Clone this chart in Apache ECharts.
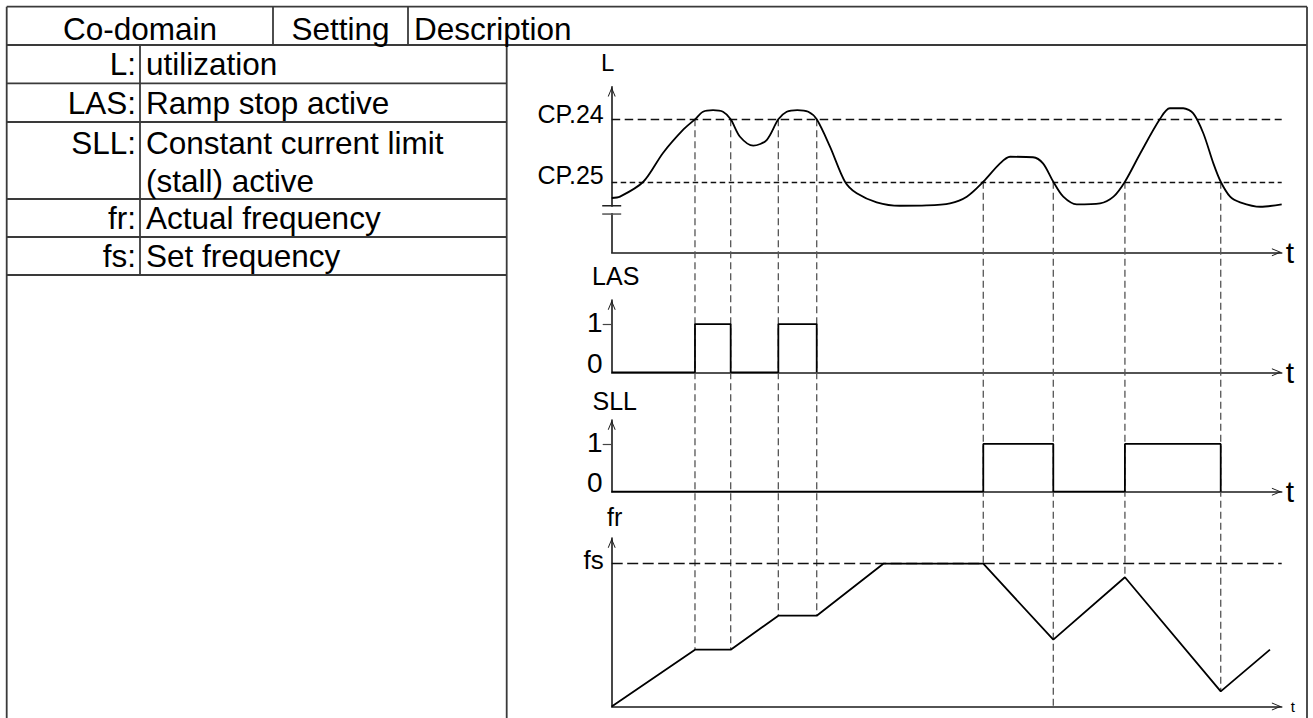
<!DOCTYPE html>
<html>
<head>
<meta charset="utf-8">
<script src="https://cdn.jsdelivr.net/npm/echarts@6/dist/echarts.min.js"></script>
<style>
html,body{margin:0;padding:0;background:#fff;}
#c{width:1313px;height:718px;}
</style>
</head>
<body>
<div id="c"></div>
<script>
// ---------- table texts ----------
const headerLabels = ['Co-domain', 'Setting', 'Description'];
const rowCodes = ['L:', 'LAS:', 'SLL:', 'fr:', 'fs:'];
const rowDescriptions = [['utilization'], ['Ramp stop active'], ['Constant current limit', '(stall) active'], ['Actual frequency'], ['Set frequency']];

// ---------- axis names / level labels ----------
const axisNames = ['L', 'LAS', 'SLL', 'fr'];
const timeName = 't';
const levelLabelsL = ['CP.25', 'CP.24'];
const cp25 = 42.6;
const cp24 = 80.3;
const levelValuesL = [cp25, cp24];
const binaryLabels = ['0', '1'];
const binaryValues = [0, 1];
const fsLabel = 'fs';
const fsValue = 100;

// ---------- L (utilization) curve ----------
const timeL = [0, 1.24, 4.72, 7.66, 10.64, 12.43, 13.63, 15.12, 16.61, 17.76, 19.15, 21.13, 23.13, 24.87, 26.12, 27.7, 29.34, 30.6, 32.58, 34.82, 36.57, 39.55, 43.0, 47.0, 50.5, 53.0, 55.46, 57.96, 59.45, 62.88, 64.37, 65.91, 67.4, 69.4, 72.9, 74.9, 76.6, 78.9, 81.8, 83.3, 85.3, 86.8, 88.3, 89.8, 90.9, 92.3, 93.8, 96.8, 100];
const valueL = [32.8, 33.6, 42.6, 60.0, 73.9, 80.3, 84.9, 85.9, 84.9, 80.3, 69.8, 64.4, 67.8, 80.3, 84.9, 85.9, 84.9, 80.3, 63.8, 42.6, 35.6, 30.2, 28.1, 28.3, 29.6, 33.6, 42.6, 53.7, 57.7, 57.4, 53.7, 42.6, 33.6, 29.0, 29.6, 33.6, 42.6, 59.8, 80.3, 87.0, 87.0, 83.9, 71.9, 53.7, 42.6, 33.6, 30.2, 27.5, 29.0];
const breakLevelsL = [28.1, 23.1];

// ---------- LAS / SLL pulses (on intervals) ----------
const lasOnIntervals = [[12.43, 17.76], [24.87, 30.6]];
const sllOnIntervals = [[55.46, 65.91], [76.6, 90.9]];

// ---------- fr (actual frequency) ----------
const timeFr = [0, 12.43, 17.76, 24.87, 30.6, 40.54, 55.46, 65.91, 76.6, 90.9, 98.25];
const valueFr = [0, 39.8, 39.8, 63.6, 63.6, 100, 100, 46.8, 90.5, 10.6, 39.8];

// ---------- dashed guide lines ----------
const guideTimes = [12.43, 17.76, 24.87, 30.6, 55.46, 65.91, 76.6, 90.9];
const guideTopL = [cp24, cp24, cp24, cp24, cp25, cp25, cp25, cp25];
const guideBottomFr = [39.8, 39.8, 63.6, 63.6, 100, 0, 90.5, 10.6];

// ---------- build ----------
const FONT = '"Liberation Sans", Arial, Helvetica, sans-serif';
const ARROW = 'path://M5,0 L10,12 L8.7,12 L5,2.8 L1.3,12 L0,12 Z';

function pulseData(intervals) {
  const d = [[0, 0]];
  intervals.forEach(function (iv) {
    d.push([iv[0], 0], [iv[0], 1], [iv[1], 1], [iv[1], 0]);
  });
  return d;
}
function zip(xs, ys) { return xs.map(function (x, i) { return [x, ys[i]]; }); }

const grids = [
  { left: 611.7, right: 31.3, top: 86.7, height: 165.6 },
  { left: 611.7, right: 31.3, top: 300, height: 72.3 },
  { left: 611.7, right: 31.3, top: 420, height: 71.7 },
  { left: 611.7, right: 31.3, top: 538, height: 168.5 }
];

function xAxisCfg(i) {
  return {
    type: 'value', gridIndex: i, min: 0, max: 100,
    axisLine: { show: true, onZero: false, lineStyle: { color: '#1a1a1a', width: 1.6 },
      symbol: ['none', ARROW], symbolSize: [8, 10], symbolOffset: [0, -5] },
    axisTick: { show: false }, axisLabel: { show: false }, splitLine: { show: false },
    name: timeName, nameLocation: 'end', nameGap: i === 3 ? 9 : 4,
    nameTextStyle: { fontSize: i === 3 ? 15 : 30, color: '#000', fontFamily: FONT, verticalAlign: 'middle' }
  };
}

const nameStyles = [
  { fontSize: 24, gap: 12, padding: [0, 8, 0, 0] },
  { fontSize: 25, gap: 12, padding: [0, 0, 0, 8] },
  { fontSize: 25, gap: 7, padding: [0, 0, 0, 6] },
  { fontSize: 25, gap: 9, padding: [0, 0, 0, 6] }
];

function yAxisBase(i, max) {
  const ns = nameStyles[i];
  return {
    type: 'value', gridIndex: i, min: 0, max: max,
    axisLine: { show: true, onZero: false, lineStyle: { color: '#1a1a1a', width: 1.6 },
      symbol: ['none', ARROW], symbolSize: [8, 10], symbolOffset: [0, -5] },
    splitLine: { show: false },
    name: axisNames[i], nameLocation: 'end', nameGap: ns.gap,
    nameTextStyle: { fontSize: ns.fontSize, color: '#000', fontFamily: FONT, padding: ns.padding }
  };
}

const yAxes = [];
yAxes.push(Object.assign(yAxisBase(0, 100), {
  axisTick: { show: false },
  axisLabel: { show: true, customValues: levelValuesL, margin: 8,
    formatter: function (v) { const k = levelValuesL.indexOf(v); return '{l' + k + '|' + levelLabelsL[k] + '}'; },
    rich: {
      l0: { fontSize: 25, fontFamily: FONT, color: '#000', padding: [0, 0, 13, 0] },
      l1: { fontSize: 25, fontFamily: FONT, color: '#000', padding: [0, 0, 10, 0] }
    } }
}));
[1, 2].forEach(function (i) {
  yAxes.push(Object.assign(yAxisBase(i, 1.5), {
    axisTick: { show: true, customValues: [1], length: 9, lineStyle: { color: '#444', width: 1.2 } },
    axisLabel: { show: true, customValues: binaryValues, margin: 9,
      formatter: function (v) { const k = binaryValues.indexOf(v); return '{b' + k + '|' + binaryLabels[k] + '}'; },
      rich: {
        b0: { fontSize: 28, fontFamily: FONT, color: '#000', padding: [0, 0, 18, 0] },
        b1: { fontSize: 28, fontFamily: FONT, color: '#000', padding: [0, 0, 3, 0] }
      } }
  }));
});
yAxes.push(Object.assign(yAxisBase(3, 118), {
  axisTick: { show: false },
  axisLabel: { show: true, customValues: [fsValue], margin: 8,
    formatter: function () { return '{f|' + fsLabel + '}'; },
    rich: { f: { fontSize: 26, fontFamily: FONT, color: '#000', padding: [0, 0, 8, 0] } } }
}));

const curveStyle = { color: '#000', width: 1.8 };

const option = {
  animation: false,
  backgroundColor: '#fff',
  grid: grids,
  xAxis: [0, 1, 2, 3].map(xAxisCfg),
  yAxis: yAxes,
  series: [
    {
      type: 'line', xAxisIndex: 0, yAxisIndex: 0, data: zip(timeL, valueL),
      smooth: 0.3, showSymbol: false, symbol: 'none', lineStyle: curveStyle, z: 5,
      markLine: {
        silent: true, symbol: 'none', label: { show: false },
        data: [
          { yAxis: cp24, lineStyle: { type: [8.5, 4.5], color: '#111', width: 1.3 } },
          { yAxis: cp25, lineStyle: { type: [5.5, 3.5], color: '#111', width: 1.3 } }
        ]
      }
    },
    { type: 'line', xAxisIndex: 1, yAxisIndex: 1, data: pulseData(lasOnIntervals), showSymbol: false, symbol: 'none', lineStyle: curveStyle, z: 5 },
    { type: 'line', xAxisIndex: 2, yAxisIndex: 2, data: pulseData(sllOnIntervals), showSymbol: false, symbol: 'none', lineStyle: curveStyle, z: 5 },
    {
      type: 'line', xAxisIndex: 3, yAxisIndex: 3, data: zip(timeFr, valueFr),
      showSymbol: false, symbol: 'none', lineStyle: curveStyle, z: 5,
      markLine: {
        silent: true, symbol: 'none', label: { show: false },
        data: [{ yAxis: fsValue, lineStyle: { type: [11, 4.5], color: '#111', width: 1.3 } }]
      }
    }
  ]
};

const chart = echarts.init(document.getElementById('c'), null, { renderer: 'svg' });
chart.setOption(option);

// ---------- table and overlay graphics ----------
const G = [];
const TL = '#3a3a3a';
function ln(x1, y1, x2, y2, style, z) {
  G.push({ type: 'line', silent: true, z: z || 1, shape: { x1: x1, y1: y1, x2: x2, y2: y2 }, style: style });
}
function tx(text, x, y, align, size) {
  G.push({ type: 'text', silent: true, z: 3, x: x, y: y,
    style: { text: text, fill: '#000', fontSize: size || 31.5, fontFamily: FONT, align: align, verticalAlign: 'middle' } });
}
const tstyle = { stroke: TL, lineWidth: 1.8 };
// outer frame and header
ln(6.7, 6.7, 1307, 6.7, tstyle);
ln(6.7, 6.7, 6.7, 718, tstyle);
ln(1307, 6.7, 1307, 718, tstyle);
ln(6.7, 45, 1307, 45, tstyle);
ln(273, 6.7, 273, 45, tstyle);
ln(408, 6.7, 408, 45, tstyle);
// left table
ln(140, 45, 140, 275, tstyle);
ln(506.7, 45, 506.7, 718, tstyle);
[83.3, 122, 199, 237, 275].forEach(function (y) { ln(6.7, y, 506.7, y, tstyle); });
// header texts
tx(headerLabels[0], 140, 28.5, 'center');
tx(headerLabels[1], 340.5, 28.5, 'center');
tx(headerLabels[2], 414, 28.5, 'left');
// row texts
const rowLineY = [[64.2], [102.6], [142.6, 181.2], [217.8], [256]];
rowCodes.forEach(function (code, i) {
  tx(code, 136, rowLineY[i][0], 'right');
  rowDescriptions[i].forEach(function (d, j) { tx(d, 146, rowLineY[i][j], 'left'); });
});

// dashed guide lines through all panels
guideTimes.forEach(function (t, i) {
  const p1 = chart.convertToPixel({ gridIndex: 0 }, [t, guideTopL[i]]);
  const p2 = chart.convertToPixel({ gridIndex: 3 }, [t, guideBottomFr[i]]);
  ln(p1[0], p1[1], p2[0], p2[1], { stroke: '#555', lineWidth: 1.3, lineDash: [7, 4] }, 1);
});

// axis break marks on L axis
const b1 = chart.convertToPixel({ gridIndex: 0 }, [0, breakLevelsL[0]]);
const b2 = chart.convertToPixel({ gridIndex: 0 }, [0, breakLevelsL[1]]);
G.push({ type: 'rect', silent: true, z: 20, shape: { x: b1[0] - 3, y: b1[1] + 1, width: 6, height: b2[1] - b1[1] - 2 }, style: { fill: '#fff' } });
ln(b1[0] - 9.5, b1[1], b1[0] + 9.5, b1[1], { stroke: '#222', lineWidth: 1.5 }, 21);
ln(b2[0] - 9.5, b2[1], b2[0] + 9.5, b2[1], { stroke: '#555', lineWidth: 1.5 }, 21);

chart.setOption({ graphic: { elements: G } });
</script>
</body>
</html>
